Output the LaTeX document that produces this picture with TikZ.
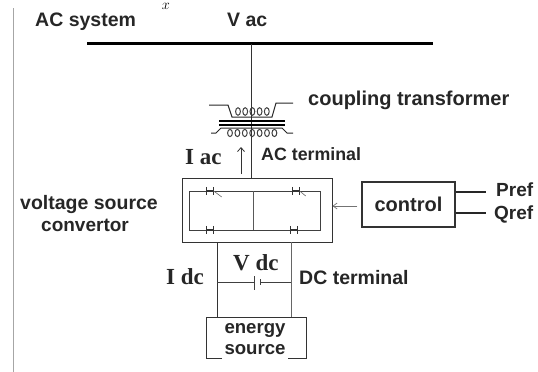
\documentclass[tikz,border=0pt]{standalone}
\usetikzlibrary{arrows.meta}
\usepackage{fontspec}
\setmainfont{Liberation Sans}
\newfontfamily\serifbold{Liberation Serif}
\tikzset{
 x=1pt,y=-1pt,
 wire/.style={draw=black!80,line width=1pt},
 lbl/.style={inner sep=0pt,font=\fontsize{19.5}{21}\selectfont\bfseries,text=black!85,anchor=base west},
 slbl/.style={inner sep=0pt,font=\fontsize{23}{24}\serifbold\bfseries,text=black!85,anchor=base west},
 box/.style={draw=black!80,line width=1pt},
 valve/.style={inner sep=0pt,minimum width=7pt,minimum height=8pt,fill=white},
 valvebar/.style={draw=black!80,line width=1.1pt},
}
\begin{document}
\begin{tikzpicture}
\useasboundingbox (0,0) rectangle (538,372);
\coordinate (lt) at (13.5,8);
\coordinate (lb) at (13.5,372);
\draw[draw=black!35,line width=0.8pt] (lt) -- (lb);
\node[inner sep=0pt,font=\fontsize{14}{14}\selectfont] (xm) at (166,6) {$x$};
\node[lbl] (acsys) at (35,27) {AC system};
\node[lbl] (vac) at (227,27) {V ac};
\coordinate (busl) at (87,43.5);
\coordinate (busr) at (433,43.5);
\draw[line width=3pt] (busl) -- (busr);
\coordinate (bustap) at (251,43.5);
\coordinate (boxtop) at (251,178);
\draw[wire] (bustap) -- (boxtop);
% transformer
\draw[line width=2pt] (219,120.5) -- (285,120.5);
\draw[line width=2pt] (219,124.5) -- (285,124.5);
\draw[line width=1pt,draw=black!85] (209,105) -- (228,105) -- (232,117) -- (272,117) -- (276,103) -- (293,103);
\draw[line width=1pt,draw=black!85] (211,133) -- (216,133) -- (221,128) -- (282,128) -- (287,133) -- (293,133);
\foreach \i in {0,...,4}{\draw[line width=1pt,draw=black!75] (238+\i*7.2,111.5) ellipse (2.4 and 3.8);}
\foreach \i in {0,...,6}{\draw[line width=1pt,draw=black!75] (230+\i*7.4,133) ellipse (2.4 and 3.6);}
\node[lbl,font=\fontsize{20}{21}\selectfont\bfseries] (ct) at (308,105) {coupling transformer};
\node[slbl] (iac) at (185,164) {I ac};
\coordinate (arrb) at (241,174);
\coordinate (arrt) at (241,147);
\draw[-{Straight Barb[length=4pt,width=7pt]},line width=0.8pt,draw=black!80] (arrb) -- (arrt);
\node[lbl,font=\fontsize{17.8}{20}\selectfont\bfseries] (acterm) at (261,160) {AC terminal};
% VSC
\node[box,minimum width=150pt,minimum height=64pt,inner sep=0pt] (vsc) at (257,210) {};
\coordinate (inw) at (189,191);
\coordinate (ine) at (320,191);
\coordinate (ise) at (320,230);
\coordinate (isw) at (189,230);
\coordinate (tm) at (253,191);
\coordinate (bm) at (253,230);
\draw[draw=black!75,line width=0.9pt] (inw) -- (ine) -- (ise) -- (isw) -- cycle;
\draw[draw=black!65,line width=1pt] (tm) -- (bm);
\node[valve] (s1) at (210,191) {};
\node[valve] (s2) at (296,191) {};
\node[valve] (s3) at (210,230) {};
\node[valve] (s4) at (294,230) {};
\foreach \v in {s1,s2,s3,s4}{
  \draw[valvebar] (\v.north west) -- (\v.south west) (\v.north east) -- (\v.south east) (\v.west) -- (\v.east);
}
\draw[line width=0.6pt,draw=black!60] (s1.east) -- ++(8,6);
\draw[line width=0.6pt,draw=black!60] (s2.east) -- ++(6,5);
\node[lbl] (vsc1) at (20,209) {voltage source};
\node[lbl,font=\fontsize{19}{21}\selectfont\bfseries] (vsc2) at (41,231) {convertor};
% control
\node[box,line width=1.4pt,minimum width=93pt,minimum height=45pt,inner sep=0pt,font=\fontsize{20}{21}\selectfont\bfseries,text=black!85] (ctrl) at (408.5,204.5) {control};
\coordinate (y206) at (0,206);
\draw[-{Straight Barb[length=4pt,width=6pt]},line width=0.7pt,draw=black!55,shorten <=4pt] (ctrl.west|-y206) -- (vsc.east|-y206);
\coordinate (pe) at (486,192);
\coordinate (qe) at (486,213);
\draw[line width=1.2pt,draw=black!85] (ctrl.east|-pe) -- (pe);
\draw[line width=1.2pt,draw=black!85] (ctrl.east|-qe) -- (qe);
\node[lbl,font=\fontsize{19}{21}\selectfont\bfseries] (pref) at (496,196) {Pref};
\node[lbl,font=\fontsize{19}{21}\selectfont\bfseries] (qref) at (494,219) {Qref};
% DC
\node[inner sep=0pt,anchor=base,font=\fontsize{18.6}{20}\selectfont\bfseries,text=black!85] (es1) at (255,333) {energy};
\node[inner sep=0pt,anchor=base,font=\fontsize{18.6}{20}\selectfont\bfseries,text=black!85] (es2) at (255,354) {source};
\draw[box] (222,358) -- (206,358) -- (206,317) -- (306,317) -- (306,358) -- (288,358);
\coordinate (dl) at (217,242);
\coordinate (dr) at (291,242);
\coordinate (dlb) at (217,317);
\coordinate (drb) at (291,317);
\draw[wire] (dl) -- (dlb);
\draw[wire,draw=black!60] (dr) -- (drb);
\coordinate (cl) at (217,282);
\coordinate (cr) at (291,282);
\coordinate (c1) at (254,282);
\coordinate (c2) at (260,282);
\draw[line width=0.8pt,draw=black!75] (cl) -- (c1) (c2) -- (cr);
\draw[line width=1pt,draw=black!75] (254,276) -- (254,290) (260,279) -- (260,285);
\node[slbl] (vdc) at (233,270) {V dc};
\node[slbl] (idc) at (166,284) {I dc};
\node[lbl] (dcterm) at (299,284) {DC terminal};
\end{tikzpicture}
\end{document}
